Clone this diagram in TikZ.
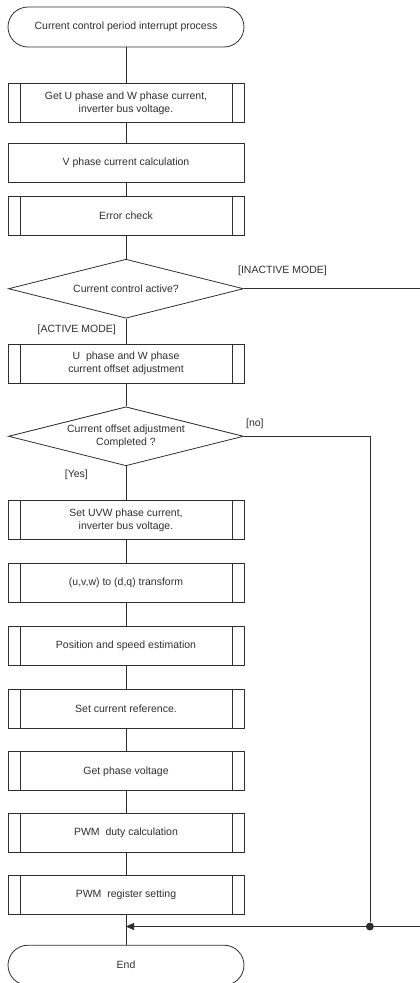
\documentclass[tikz,border=0pt]{standalone}
\usepackage{fontspec}
\setmainfont{Liberation Sans}
\usepackage{tikz}
\usetikzlibrary{arrows.meta,positioning,shapes.geometric,calc}
\definecolor{ink}{HTML}{2E2E2E}
\tikzset{
  proc/.style={
    draw=ink, line width=0.8pt, text=ink,
    minimum width=236pt, minimum height=39pt,
    font=\fontsize{10.5}{12.5}\selectfont, align=center,
    inner sep=2pt,
  },
  subproc/.style={
    proc,
    path picture={
      \draw[ink, line width=0.8pt]
        ([xshift=12pt]path picture bounding box.north west) --
        ([xshift=12pt]path picture bounding box.south west);
      \draw[ink, line width=0.8pt]
        ([xshift=-12pt]path picture bounding box.north east) --
        ([xshift=-12pt]path picture bounding box.south east);
    },
  },
  term/.style={proc, rounded corners=20pt, minimum height=40pt},
  decide/.style={
    diamond, aspect=4, draw=ink, line width=0.8pt, text=ink,
    minimum width=235pt, minimum height=59pt,
    font=\fontsize{10.5}{12.5}\selectfont, align=center, inner sep=0pt,
  },
  flow/.style={draw=ink, line width=0.8pt},
  arrow/.style={flow, -{Triangle[length=8pt, width=7pt]}},
  lbl/.style={font=\fontsize{10.5}{12}\selectfont, text=ink, inner sep=1pt},
  dot/.style={circle, fill=ink, inner sep=0pt, minimum size=8pt},
}

\begin{document}
\begin{tikzpicture}[x=1pt, y=1pt]
  \useasboundingbox (0,0) rectangle (420,-983);
  \coordinate (rim) at (420,0);

  \node[term] (start) at (126,-27) {Current control period interrupt process};

  \node[subproc, below=36pt of start] (getcur)
    {Get U phase and W phase current,\\inverter bus voltage.};
  \node[proc, below=20pt of getcur] (vcalc) {V phase current calculation};
  \node[subproc, below=13pt of vcalc] (errchk) {Error check};

  \node[decide, below=23pt of errchk] (active) {Current control active?};

  \node[subproc, below=25pt of active] (offadj)
    {U\ \ phase and W phase\\current offset adjustment};

  \node[decide, below=23pt of offadj] (offdone)
    {Current offset adjustment\\Completed ?};

  \node[subproc, below=34pt of offdone] (setuvw)
    {Set UVW phase current,\\inverter bus voltage.};
  \node[subproc, below=23pt of setuvw] (uvwdq) {(u,v,w) to (d,q) transform};
  \node[subproc, below=23pt of uvwdq] (posest) {Position and speed estimation};
  \node[subproc, below=23pt of posest] (curref) {Set current reference.};
  \node[subproc, below=23pt of curref] (phvolt) {Get phase voltage};
  \node[subproc, below=22pt of phvolt] (pwmduty) {PWM\ \ duty calculation};
  \node[subproc, below=22pt of pwmduty] (pwmreg) {PWM\ \ register setting};

  \node[term, below=30pt of pwmreg] (end) {End};

  % branch labels
  \node[lbl, above right=12pt and -7pt of active.east] (inlbl) {[INACTIVE MODE]};
  \node[lbl, below left=5pt and 9pt of active.south] (aclbl) {[ACTIVE MODE]};
  \node[lbl, above right=6pt and 1pt of offdone.east] (nolbl) {[no]};
  \node[lbl, below left=2pt and 37pt of offdone.south] (yeslbl) {[Yes]};

  % main flow
  \foreach \a/\b in {start/getcur, getcur/vcalc, vcalc/errchk, errchk/active,
                     active/offadj, offadj/offdone, offdone/setuvw,
                     setuvw/uvwdq, uvwdq/posest, posest/curref, curref/phvolt,
                     phvolt/pwmduty, pwmduty/pwmreg, pwmreg/end}
    \draw[flow] (\a) -- (\b);

  % side branches
  \coordinate (mrg) at ($(pwmreg.south)!0.39!(end.north)$);
  \node[dot] (jn) at ([xshift=126pt]offdone.east |- mrg) {};
  \draw[flow] (active.east) -- (active.east -| rim);
  \draw[flow] (offdone.east) -| (jn);
  \draw[flow] (jn) -- (mrg -| rim);
  \draw[arrow] (jn) -- (mrg);

\end{tikzpicture}
\end{document}
